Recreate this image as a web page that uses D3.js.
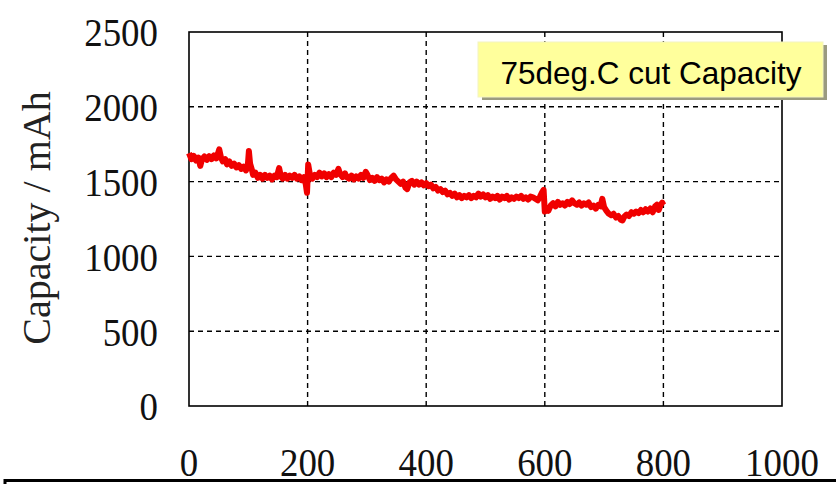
<!DOCTYPE html>
<html>
<head>
<meta charset="utf-8">
<script src="https://cdn.jsdelivr.net/npm/d3@7"></script>
<style>
  html, body { margin: 0; padding: 0; background: #fff; }
  svg { display: block; }
</style>
</head>
<body>
<svg id="chart" width="836" height="484"></svg>
<script>
// ---- data ----
const cycles = [0,4,8,12,16,19,22,26,30,34,38,42,46,49,51,54,57,61,64,68,72,76,80,84,88,92,96,99,101,103,106,108,112,116,120,124,128,132,136,140,144,148,152,155,158,162,166,170,174,178,182,186,190,194,197,199,201,204,208,212,216,220,224,228,232,236,240,244,248,252,255,259,263,266,270,274,278,282,286,290,294,298,301,305,309,313,317,321,325,329,333,337,341,345,349,353,357,361,365,368,372,376,380,384,388,392,396,400,404,408,412,416,420,424,428,432,436,440,444,448,452,456,460,464,468,472,476,480,484,488,492,496,500,504,508,512,516,520,524,528,532,536,540,544,548,552,556,560,564,568,572,576,580,584,588,592,595,598,600,603,606,610,614,618,622,626,630,634,638,642,646,650,654,658,662,666,670,674,678,682,686,690,694,697,700,704,708,712,716,720,724,728,731,734,738,742,746,750,754,758,762,766,770,774,778,782,786,789,792,795,798,800];
const capacity = [1690,1650,1672,1640,1660,1605,1650,1668,1645,1670,1650,1675,1655,1690,1715,1660,1635,1650,1615,1635,1605,1620,1595,1610,1585,1600,1575,1600,1705,1620,1580,1545,1560,1525,1545,1520,1545,1525,1540,1515,1540,1530,1590,1535,1520,1545,1520,1540,1525,1545,1520,1535,1510,1530,1480,1425,1615,1545,1520,1545,1530,1560,1535,1555,1530,1550,1530,1560,1545,1585,1550,1530,1555,1530,1520,1540,1515,1535,1520,1545,1525,1565,1545,1510,1525,1505,1530,1510,1520,1495,1515,1500,1525,1540,1515,1500,1485,1500,1460,1450,1495,1505,1480,1500,1480,1495,1475,1490,1470,1480,1455,1465,1440,1450,1430,1440,1415,1425,1405,1420,1395,1410,1390,1405,1395,1410,1390,1405,1395,1420,1400,1415,1395,1410,1385,1400,1390,1405,1380,1400,1390,1405,1380,1395,1385,1400,1390,1405,1385,1395,1380,1400,1395,1385,1375,1400,1425,1445,1300,1325,1305,1340,1355,1335,1365,1345,1355,1340,1365,1350,1375,1355,1345,1360,1340,1355,1345,1360,1330,1340,1320,1345,1335,1385,1330,1305,1285,1275,1285,1260,1270,1245,1240,1265,1280,1270,1295,1285,1300,1290,1310,1295,1315,1300,1320,1295,1335,1345,1310,1340,1360,1345];
const xTicks = [0,200,400,600,800,1000];
const yTicks = [0,500,1000,1500,2000,2500];
const yTitle = "Capacity / mAh";
const boxLabel = "75deg.C cut Capacity";

// ---- layout ----
const svg = d3.select("#chart");
const x = d3.scaleLinear().domain([0,1000]).range([189,782]);
const y = d3.scaleLinear().domain([0,2500]).range([406,32]);
const serif = "'Liberation Serif','Times New Roman',serif";
const fmt = d3.format("d");

// grid lines
const grid = svg.append("g");
grid.selectAll("line.gx").data(xTicks.filter(d => d > 0 && d < 1000)).join("line")
  .attr("x1", d => x(d)).attr("x2", d => x(d))
  .attr("y1", y(2500)).attr("y2", y(0))
  .attr("stroke", "#000").attr("stroke-width", 1.4).attr("stroke-dasharray", "5,4");
grid.selectAll("line.gy").data(yTicks.filter(d => d > 0 && d < 2500)).join("line")
  .attr("x1", x(0)).attr("x2", x(1000))
  .attr("y1", d => y(d)).attr("y2", d => y(d))
  .attr("stroke", "#000").attr("stroke-width", 1.4).attr("stroke-dasharray", "5,4");

// frame
svg.append("rect")
  .attr("x", x(0)).attr("y", y(2500))
  .attr("width", x(1000) - x(0)).attr("height", y(0) - y(2500))
  .attr("fill", "none").attr("stroke", "#000").attr("stroke-width", 1.6);

// tick labels (slightly condensed serif digits)
svg.append("g").selectAll("text").data(yTicks).join("text")
  .attr("transform", d => `translate(${x(0) - 31},${y(d)}) scale(0.9,1)`)
  .attr("text-anchor", "end").attr("dy", "0.35em")
  .attr("font-family", serif).attr("font-size", 41).attr("fill", "#111")
  .text(fmt);
svg.append("g").selectAll("text").data(xTicks).join("text")
  .attr("transform", d => `translate(${x(d)},476) scale(0.9,1)`)
  .attr("text-anchor", "middle")
  .attr("font-family", serif).attr("font-size", 41).attr("fill", "#111")
  .text(fmt);

// y title
svg.append("text")
  .attr("transform", "translate(50,218) rotate(-90)")
  .attr("text-anchor", "middle")
  .attr("font-family", serif).attr("font-size", 40).attr("fill", "#222")
  .text(yTitle);

// data line
const pts = cycles.map((c, i) => [c, capacity[i]]);
svg.append("path")
  .datum(pts)
  .attr("fill", "none").attr("stroke", "#f00000").attr("stroke-width", 6)
  .attr("stroke-linejoin", "round")
  .attr("d", d3.line().x(d => x(d[0])).y(d => y(d[1])));

// label box
svg.append("rect").attr("x", 482).attr("y", 45).attr("width", 345).attr("height", 55).attr("fill", "#9a9a80");
svg.append("rect").attr("x", 478).attr("y", 42).attr("width", 345).attr("height", 55)
  .attr("fill", "#ffff9c").attr("stroke", "#f4f4c0").attr("stroke-width", 1);
svg.append("text").attr("x", 651).attr("y", 84).attr("text-anchor", "middle")
  .attr("font-family", "'Liberation Sans',Arial,sans-serif").attr("font-size", 31.5).attr("fill", "#000")
  .text(boxLabel);

// bottom frame line
svg.append("rect").attr("x", 5).attr("y", 480.5).attr("width", 840).attr("height", 20)
  .attr("fill", "none").attr("stroke", "#000").attr("stroke-width", 3);
</script>
</body>
</html>
